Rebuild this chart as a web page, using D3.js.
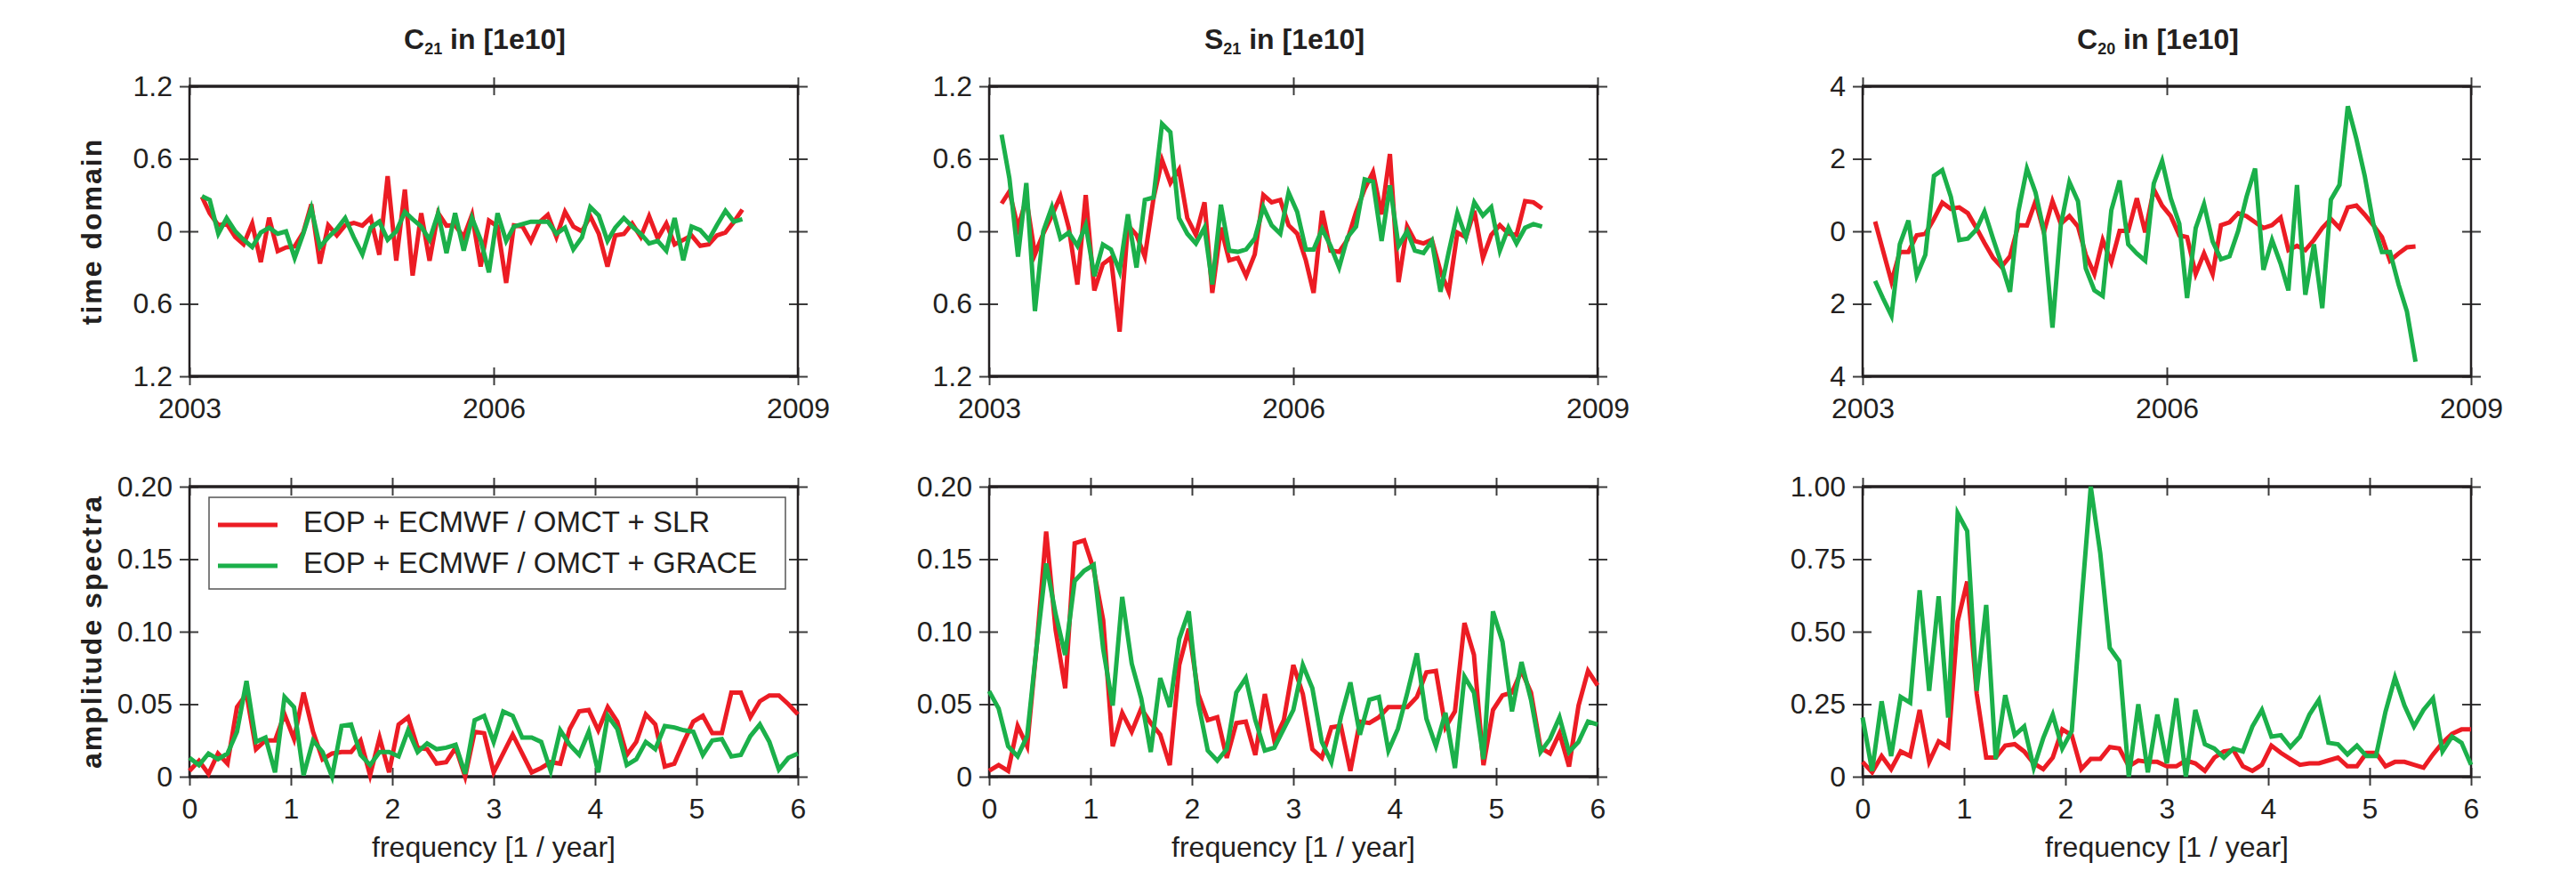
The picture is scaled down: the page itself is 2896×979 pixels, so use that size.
<!DOCTYPE html>
<html lang="en">
<head>
<meta charset="UTF-8">
<title>C21 / S21 / C20 time series and spectra</title>
<script src="https://d3js.org/d3.v7.min.js"></script>
<style>
  body { margin: 0; background: #fff; }
  svg text { font-family: "Liberation Sans", Arial, Helvetica, sans-serif; fill: #231f20; }
</style>
</head>
<body>
<svg width="2896" height="979"></svg>
<script>
// ---- data ----
const seriesNames = ["EOP + ECMWF / OMCT + SLR", "EOP + ECMWF / OMCT + GRACE"];
const colors = ["#ec1c24", "#1bb04a"];
const titles = [["C", "21"], ["S", "21"], ["C", "20"]];
const rowLabels = ["time domain", "amplitude spectra"];

// monthly epochs Feb 2003 .. Jun 2008
const months = d3.timeMonth.range(new Date(2003, 1, 1), new Date(2008, 6, 1));
// frequency grid of the spectra, 1/year (12 / 128 spacing)
const freqs = d3.range(65).map(k => k * 12 / 128);

const yearTicks = [new Date(2003, 0, 1), new Date(2006, 0, 1), new Date(2009, 0, 1)];
const freqTicks = [0, 1, 2, 3, 4, 5, 6];
const ticksC21 = [-1.2, -0.6, 0, 0.6, 1.2];
const ticksS21 = [-1.2, -0.6, 0, 0.6, 1.2];
const ticksC20 = [-4, -2, 0, 2, 4];
const ticksAmp1 = [0, 0.05, 0.10, 0.15, 0.20];
const ticksAmp2 = [0, 0.05, 0.10, 0.15, 0.20];
const ticksAmp3 = [0, 0.25, 0.50, 0.75, 1.00];

const c21Slr = [0.285,0.15,0.05,0.064,-0.047,-0.108,0.064,-0.255,0.113,-0.164,
  -0.133,-0.125,-0.01,0.223,-0.267,0.05,-0.034,0.05,0.07,0.047,
  0.113,-0.194,0.456,-0.243,0.346,-0.366,0.15,-0.243,0.15,0.047,
  0.05,-0.047,0.137,-0.292,0.088,0.04,-0.427,0.05,0.04,-0.083,
  0.076,0.137,-0.047,0.162,0.04,0.0,0.125,-0.022,-0.292,-0.034,
  -0.022,0.064,-0.047,0.125,-0.059,0.064,-0.108,-0.071,-0.034,-0.12,
  -0.108,-0.034,-0.01,0.076,0.18];
const c21Grace = [0.29,0.26,-0.02,0.11,0.0,-0.07,-0.13,-0.01,0.03,-0.02,
  0.0,-0.22,-0.02,0.19,-0.13,-0.05,0.02,0.11,-0.05,-0.19,
  0.03,0.08,-0.07,0.0,0.16,0.10,0.04,-0.07,0.15,-0.18,
  0.15,-0.16,0.11,-0.07,-0.34,0.15,-0.08,0.04,0.06,0.08,
  0.08,0.08,-0.02,0.03,-0.15,-0.05,0.20,0.13,-0.08,0.03,
  0.11,0.04,-0.02,-0.10,-0.08,-0.16,0.11,-0.24,0.04,0.01,
  -0.07,0.05,0.17,0.08,0.10];

const s21Slr = [0.23,0.33,0.03,0.27,-0.19,-0.02,0.13,0.29,0.03,-0.44,
  0.30,-0.49,-0.27,-0.22,-0.83,0.05,-0.03,-0.21,0.27,0.59,
  0.40,0.51,0.11,-0.03,0.24,-0.51,0.03,-0.24,-0.22,-0.37,
  -0.19,0.30,0.24,0.26,0.05,-0.02,-0.24,-0.51,0.17,-0.16,
  -0.17,-0.07,0.16,0.35,0.49,0.14,0.64,-0.42,0.04,-0.08,
  -0.10,-0.07,-0.33,-0.50,-0.01,-0.05,0.17,-0.22,-0.03,0.05,
  -0.02,-0.03,0.25,0.24,0.19];
const s21Grace = [0.80,0.44,-0.21,0.40,-0.66,0.0,0.20,-0.06,-0.01,-0.12,
  0.05,-0.37,-0.11,-0.15,-0.33,0.14,-0.30,0.26,0.28,0.89,
  0.82,0.11,-0.02,-0.10,0.03,-0.44,0.22,-0.16,-0.17,-0.15,
  -0.06,0.20,0.05,-0.02,0.32,0.16,-0.15,-0.15,0.02,-0.12,
  -0.30,-0.05,0.04,0.43,0.41,-0.08,0.38,-0.12,0.0,-0.16,
  -0.18,-0.08,-0.50,-0.17,0.15,-0.05,0.24,0.13,0.20,-0.16,
  0.03,-0.10,0.03,0.06,0.04];

const c20Slr = [0.27,-0.52,-1.39,-0.57,-0.57,-0.11,-0.07,0.34,0.79,0.62,
  0.66,0.50,0.09,-0.32,-0.73,-0.98,-0.69,0.17,0.16,0.83,
  -0.03,0.83,0.21,0.42,0.13,-0.65,-1.18,-0.24,-0.85,0.01,
  0.01,0.91,-0.03,1.16,0.71,0.42,-0.11,-0.16,-1.18,-0.61,
  -1.18,0.17,0.25,0.50,0.42,0.25,0.09,0.17,0.38,-0.52,
  -0.40,-0.52,-0.24,0.09,0.34,0.09,0.66,0.71,0.46,0.17,
  -0.16,-0.81,-0.61,-0.44,-0.42];
const c20Grace = [-1.37,-1.84,-2.33,-0.36,0.30,-1.22,-0.65,1.53,1.69,0.95,
  -0.24,-0.20,0.05,0.54,-0.20,-0.89,-1.67,0.54,1.73,1.07,
  0.01,-2.66,0.17,1.36,0.83,-1.02,-1.63,-1.78,0.58,1.40,
  -0.36,-0.61,-0.81,1.32,1.94,0.91,0.21,-1.84,0.09,0.75,
  -0.28,-0.77,-0.69,0.01,0.95,1.73,-1.06,-0.24,-0.89,-1.63,
  1.28,-1.75,-0.36,-2.12,0.87,1.28,3.45,2.55,1.53,0.21,
  -0.57,-0.57,-1.47,-2.21,-3.60];

const ampC21Slr = [0.004,0.011,0.002,0.016,0.009,0.048,0.057,0.019,0.025,0.025,
  0.043,0.026,0.058,0.031,0.012,0.016,0.017,0.017,0.025,0.001,
  0.027,0.003,0.036,0.041,0.020,0.019,0.009,0.010,0.020,0.0,
  0.031,0.030,0.003,0.016,0.029,0.016,0.003,0.006,0.010,0.009,
  0.033,0.045,0.046,0.032,0.048,0.038,0.015,0.024,0.043,0.036,
  0.007,0.009,0.024,0.038,0.042,0.030,0.030,0.058,0.058,0.041,
  0.052,0.056,0.056,0.050,0.043];
const ampC21Grace = [0.013,0.008,0.016,0.012,0.016,0.031,0.066,0.024,0.027,0.003,
  0.055,0.048,0.001,0.025,0.017,0.0,0.035,0.036,0.015,0.008,
  0.017,0.017,0.014,0.032,0.017,0.023,0.019,0.020,0.022,0.002,
  0.039,0.042,0.024,0.045,0.042,0.027,0.027,0.024,0.004,0.032,
  0.022,0.015,0.031,0.003,0.042,0.033,0.008,0.012,0.024,0.019,
  0.035,0.034,0.032,0.031,0.015,0.025,0.026,0.014,0.015,0.028,
  0.036,0.024,0.005,0.013,0.016];

const ampS21Slr = [0.004,0.008,0.004,0.035,0.021,0.090,0.169,0.101,0.061,0.161,
  0.163,0.143,0.108,0.021,0.044,0.031,0.047,0.037,0.029,0.008,
  0.077,0.102,0.057,0.039,0.041,0.013,0.037,0.038,0.015,0.057,
  0.025,0.039,0.077,0.057,0.019,0.013,0.034,0.035,0.004,0.038,
  0.037,0.041,0.048,0.048,0.048,0.055,0.072,0.073,0.034,0.045,
  0.106,0.084,0.008,0.046,0.056,0.058,0.073,0.058,0.020,0.016,
  0.030,0.007,0.049,0.073,0.063];
const ampS21Grace = [0.059,0.047,0.021,0.014,0.028,0.090,0.147,0.112,0.084,0.135,
  0.142,0.146,0.088,0.049,0.124,0.078,0.054,0.017,0.068,0.048,
  0.095,0.114,0.051,0.018,0.011,0.019,0.058,0.068,0.039,0.018,
  0.020,0.033,0.046,0.077,0.061,0.024,0.010,0.041,0.065,0.029,
  0.053,0.055,0.018,0.033,0.058,0.085,0.040,0.021,0.044,0.006,
  0.069,0.058,0.012,0.114,0.093,0.045,0.079,0.053,0.017,0.026,
  0.041,0.017,0.024,0.038,0.036];

const ampC20Slr = [0.051,0.015,0.071,0.026,0.087,0.071,0.230,0.051,0.122,0.102,
  0.536,0.673,0.286,0.066,0.066,0.107,0.112,0.087,0.046,0.026,
  0.066,0.163,0.143,0.026,0.061,0.061,0.102,0.097,0.036,0.056,
  0.051,0.051,0.036,0.036,0.056,0.046,0.020,0.066,0.087,0.092,
  0.036,0.020,0.041,0.107,0.082,0.061,0.041,0.046,0.046,0.056,
  0.066,0.036,0.036,0.082,0.082,0.036,0.051,0.051,0.041,0.031,
  0.077,0.117,0.148,0.163,0.163];
const ampC20Grace = [0.204,0.020,0.260,0.071,0.275,0.255,0.643,0.296,0.622,0.204,
  0.908,0.847,0.296,0.592,0.061,0.281,0.143,0.173,0.031,0.133,
  0.214,0.097,0.158,0.592,1.000,0.770,0.444,0.398,0.0,0.250,
  0.015,0.214,0.046,0.270,0.0,0.230,0.112,0.097,0.066,0.097,
  0.087,0.173,0.230,0.138,0.143,0.102,0.138,0.214,0.265,0.117,
  0.112,0.077,0.107,0.071,0.071,0.224,0.342,0.245,0.173,0.230,
  0.270,0.087,0.138,0.117,0.041];

// ---- layout ----
const W = 684, H = 326;
const colLeft = [213, 1112, 2094];
const rowTop = [97, 547];

const svg = d3.select("svg");

const fmtTime = d => String(Math.abs(d));              // minus signs are missing in the original
const fmtAmp = d => d === 0 ? "0" : d3.format(".2f")(d);

const panels = [
  {row: 0, col: 0, series: [c21Slr, c21Grace], ticks: ticksC21, fmt: fmtTime},
  {row: 0, col: 1, series: [s21Slr, s21Grace], ticks: ticksS21, fmt: fmtTime},
  {row: 0, col: 2, series: [c20Slr, c20Grace], ticks: ticksC20, fmt: fmtTime},
  {row: 1, col: 0, series: [ampC21Slr, ampC21Grace], ticks: ticksAmp1, fmt: fmtAmp},
  {row: 1, col: 1, series: [ampS21Slr, ampS21Grace], ticks: ticksAmp2, fmt: fmtAmp},
  {row: 1, col: 2, series: [ampC20Slr, ampC20Grace], ticks: ticksAmp3, fmt: fmtAmp}
];

function drawAxes(g, x, y, xTicks, xFmt, yTicks, yFmt) {
  const left = g.append("g")
    .call(d3.axisLeft(y).tickValues(yTicks).tickFormat(yFmt).tickSize(11).tickPadding(8));
  left.selectAll("line").attr("x1", 10);

  const right = g.append("g").attr("transform", "translate(" + W + ",0)")
    .call(d3.axisRight(y).tickValues(yTicks).tickFormat("").tickSize(11));
  right.selectAll("line").attr("x1", -10);

  const bottom = g.append("g").attr("transform", "translate(0," + H + ")")
    .call(d3.axisBottom(x).tickValues(xTicks).tickFormat(xFmt).tickSize(10));
  bottom.selectAll("line").attr("y1", -10);
  bottom.selectAll("text").attr("y", 47).attr("dy", null);

  const top = g.append("g")
    .call(d3.axisTop(x).tickValues(xTicks).tickFormat("").tickSize(10));
  top.selectAll("line").attr("y1", 10);

  [left, right, bottom, top].forEach(a => {
    a.attr("font-size", null).attr("font-family", null);
    a.select(".domain").remove();
  });
  g.selectAll(".tick line").attr("stroke", "#3c3c3c").attr("stroke-width", 2);
  g.selectAll(".tick text").attr("font-size", 32);
}

panels.forEach(p => {
  const g = svg.append("g")
    .attr("transform", "translate(" + colLeft[p.col] + "," + rowTop[p.row] + ")");

  const y = d3.scaleLinear().domain([p.ticks[0], p.ticks[p.ticks.length - 1]]).range([H, 0]);
  let x, xVals;
  if (p.row === 0) {
    x = d3.scaleTime().domain([yearTicks[0], yearTicks[2]]).range([0, W]);
    xVals = months.map(m => d3.timeDay.offset(m, 14));
    drawAxes(g, x, y, yearTicks, d3.timeFormat("%Y"), p.ticks, p.fmt);
  } else {
    x = d3.scaleLinear().domain([0, 6]).range([0, W]);
    xVals = freqs;
    drawAxes(g, x, y, freqTicks, d3.format("d"), p.ticks, p.fmt);
  }

  // frame
  g.append("line").attr("x1", 0).attr("x2", 0).attr("y1", 0).attr("y2", H)
    .attr("stroke", "#231f20").attr("stroke-width", 2.5);
  g.append("line").attr("x1", W).attr("x2", W).attr("y1", 0).attr("y2", H)
    .attr("stroke", "#231f20").attr("stroke-width", 2.5);
  g.append("line").attr("x1", -1).attr("x2", W + 1).attr("y1", 0).attr("y2", 0)
    .attr("stroke", "#231f20").attr("stroke-width", 3.5);
  g.append("line").attr("x1", -1).attr("x2", W + 1).attr("y1", H).attr("y2", H)
    .attr("stroke", "#231f20").attr("stroke-width", 3.5);

  const line = d3.line()
    .x((d, i) => x(xVals[i]))
    .y(d => y(d));

  p.series.forEach((s, si) => {
    g.append("path")
      .datum(s)
      .attr("d", line)
      .attr("fill", "none")
      .attr("stroke", colors[si])
      .attr("stroke-width", 5)
      .attr("stroke-linejoin", "miter")
      .attr("stroke-miterlimit", 4);
  });

  if (p.row === 0) {
    const t = g.append("text")
      .attr("x", W / 2 - 10).attr("y", -42)
      .attr("text-anchor", "middle")
      .attr("font-weight", "bold").attr("font-size", 32);
    t.append("tspan").text(titles[p.col][0]);
    t.append("tspan").text(titles[p.col][1]).attr("font-size", 18).attr("dy", 6);
    t.append("tspan").text(" in [1e10]").attr("dy", -6);
  } else {
    g.append("text")
      .attr("x", W / 2).attr("y", 416)
      .attr("text-anchor", "middle")
      .attr("font-size", 32)
      .text("frequency [1 / year]");
  }

  if (p.col === 0) {
    g.append("text")
      .attr("transform", "translate(-99," + (H / 2) + ") rotate(-90)")
      .attr("text-anchor", "middle")
      .attr("font-weight", "bold").attr("font-size", 32)
      .attr("letter-spacing", 2)
      .text(rowLabels[p.row]);
  }

  if (p.row === 1 && p.col === 0) {
    const lg = g.append("g").attr("transform", "translate(22,12)");
    lg.append("rect").attr("width", 648).attr("height", 103)
      .attr("fill", "#fff").attr("stroke", "#555").attr("stroke-width", 1.5);
    seriesNames.forEach((name, i) => {
      const yy = 31 + i * 46;
      lg.append("line").attr("x1", 10).attr("x2", 77).attr("y1", yy).attr("y2", yy)
        .attr("stroke", colors[i]).attr("stroke-width", 5);
      lg.append("text").attr("x", 106).attr("y", yy + 8)
        .attr("font-size", 33).text(name);
    });
  }
});
</script>
</body>
</html>
